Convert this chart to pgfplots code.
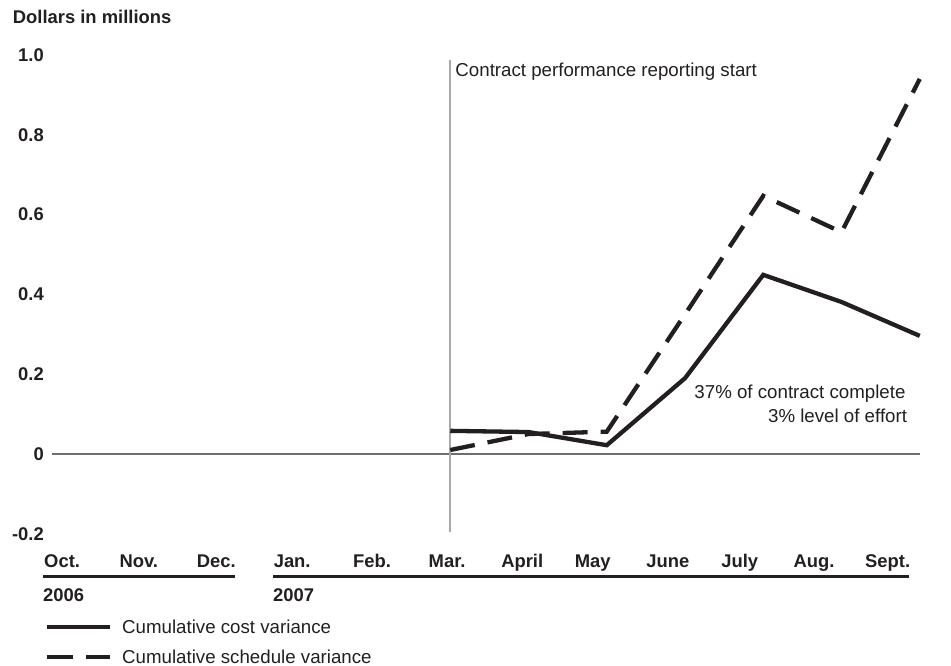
\documentclass[border=0pt]{standalone}
\usepackage{fontspec}
\setmainfont{Liberation Sans}
\usepackage{pgfplots}
\pgfplotsset{compat=1.18}
\definecolor{ink}{HTML}{231F20}
\definecolor{vgray}{HTML}{A7A9AC}
\definecolor{zgray}{HTML}{6D6E71}
\newcommand{\fs}{\fontsize{18.4}{22}\selectfont}
\newcommand{\fr}{\fontsize{18.7}{22}\selectfont}
\begin{document}
\begin{tikzpicture}[x=1pt,y=1pt]
\useasboundingbox (0,0) rectangle (951,666);
\begin{axis}[
  at={(52pt,132.2pt)}, anchor=south west,
  scale only axis, width=868pt, height=478.8pt,
  xmin=-0.0895, xmax=11.003, ymin=-0.2, ymax=1.0,
  axis x line*=bottom, axis y line*=left,
  axis line style={draw=none},
  major tick length=0pt,
  clip=false,
  xtick={0.04,1.02,2.01,2.98,4.0,4.96,5.92,6.82,7.78,8.70,9.65,10.59},
  xticklabels={Oct.,Nov.,Dec.,Jan.,Feb.,Mar.,April,May,June,July,Aug.,Sept.},
  xticklabel style={font=\fs\bfseries, anchor=base, yshift=-34.2pt, inner sep=0pt, text=ink},
  ytick={-0.2,0,0.2,0.4,0.6,0.8,1.0},
  yticklabels={-0.2,0,0.2,0.4,0.6,0.8,1.0},
  yticklabel style={font=\fs\bfseries, anchor=east, inner sep=0pt, xshift=-8pt, text=ink},
]
\draw[zgray, line width=1.7pt] (axis cs:-0.0895,0) -- (axis cs:11,0);
\draw[vgray, line width=2pt] (axis cs:5,-0.195) -- (axis cs:5,0.987);
\node[anchor=base west, inner sep=0pt, font=\fr, text=ink] at (axis cs:5,0.945) [xshift=5pt] {Contract performance reporting start};
\node[anchor=base east, inner sep=0pt, font=\fr, text=ink] at (axis cs:10.82,0.140) {37\% of contract complete};
\node[anchor=base east, inner sep=0pt, font=\fr, text=ink] at (axis cs:10.84,0.078) {3\% level of effort};
% Cumulative cost variance
\addplot[ink, line width=4.3pt] coordinates {
  (5,0.058) (6,0.055) (7,0.022) (8,0.19) (9,0.449) (10,0.381) (11,0.296)};
% Cumulative schedule variance
\addplot[ink, line width=4.3pt, dash pattern=on 25pt off 13pt] coordinates {
  (5,0.01) (6,0.05) (7,0.056) (8,0.35) (9,0.647) (10,0.556) (11,0.94)};
\end{axis}
\node[anchor=base west, inner sep=0pt, font=\fs\bfseries, text=ink] at (12.7,642) {Dollars in millions};
\draw[ink, line width=3pt] (43,89) -- (235,89);
\draw[ink, line width=3pt] (273,89) -- (909,89);
\node[anchor=base west, inner sep=0pt, font=\fs\bfseries, text=ink] at (43,64) {2006};
\node[anchor=base west, inner sep=0pt, font=\fs\bfseries, text=ink] at (273,64) {2007};
% legend
\draw[ink, line width=4.3pt] (47,39) -- (110,39);
\node[anchor=base west, inner sep=0pt, font=\fr, text=ink] at (122,32.3) {Cumulative cost variance};
\draw[ink, line width=4.3pt, dash pattern=on 26pt off 13pt] (47,9) -- (110,9);
\node[anchor=base west, inner sep=0pt, font=\fr, text=ink] at (122,2.3) {Cumulative schedule variance};
\end{tikzpicture}
\end{document}
